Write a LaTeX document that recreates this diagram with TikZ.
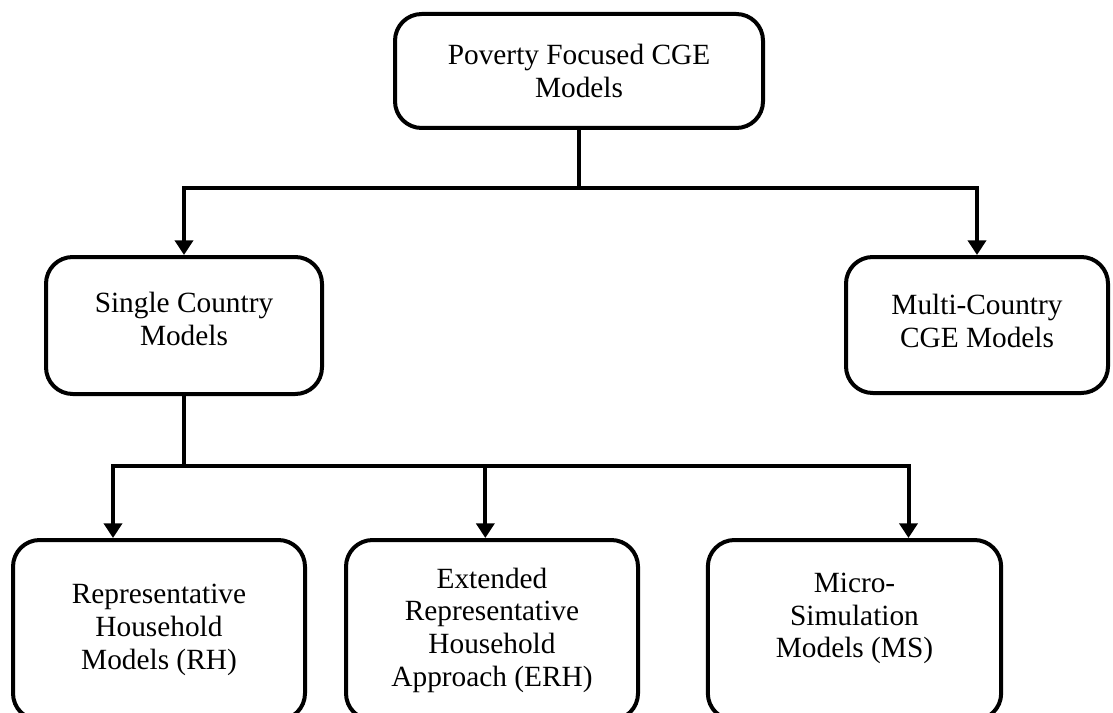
\documentclass[tikz,border=0pt]{standalone}
\usepackage{fontspec}
\setmainfont{Liberation Serif}
\usetikzlibrary{arrows.meta,calc}

\tikzset{
  model/.style={draw, line width=3pt, rounded corners=20pt, align=center, inner sep=0pt,
    font=\fontsize{22}{24.5}\selectfont},
  link/.style={line width=3pt},
  arr/.style={line width=3pt, -{Triangle[width=13.5pt,length=11pt]}},
}

\begin{document}
\begin{tikzpicture}[x=0.75pt,y=-0.75pt]
    \useasboundingbox (0,0) rectangle (1113,713);
    \clip (0,0) rectangle (1113,713);
    % boxes
    \node[model, minimum width=276pt, minimum height=85.5pt] (top) at (579,71) {Poverty Focused CGE\\Models};
    \node[model, minimum width=207pt, minimum height=102.75pt, text depth=10pt] (sc) at (184,325.5) {Single Country\\Models};
    \node[model, minimum width=196.5pt, minimum height=102pt, text depth=6pt] (mc) at (977,325) {Multi-Country\\CGE Models};
    \node[model, minimum width=219pt, minimum height=135pt] (rh) at (159,630) {Representative\\Household\\Models (RH)};
    \node[model, minimum width=219pt, minimum height=135pt] (erh) at (492,630) {Extended\\Representative\\Household\\Approach (ERH)};
    \node[model, minimum width=220pt, minimum height=135pt, text depth=22pt] (ms) at (854.5,630) {Micro-\\Simulation\\Models (MS)};
    % connectors
    \coordinate (bustop) at (0,188);
    \coordinate (busbot) at (0,466);
    \coordinate (jtop) at (top.south |- bustop);
    \coordinate (jsc) at (sc.south |- busbot);
    \draw[link] (top.south) -- (jtop);
    \draw[arr] (jtop) -| (sc.north);
    \draw[arr] (jtop) -| (mc.north);
    \draw[link] (sc.south) -- (jsc);
    \draw[arr] (jsc) -| ([xshift=-34.5pt]rh.north);
    \draw[arr] (jsc) -| ([xshift=-5pt]erh.north);
    \draw[arr] (jsc) -| ([xshift=40.5pt]ms.north);
\end{tikzpicture}
\end{document}
